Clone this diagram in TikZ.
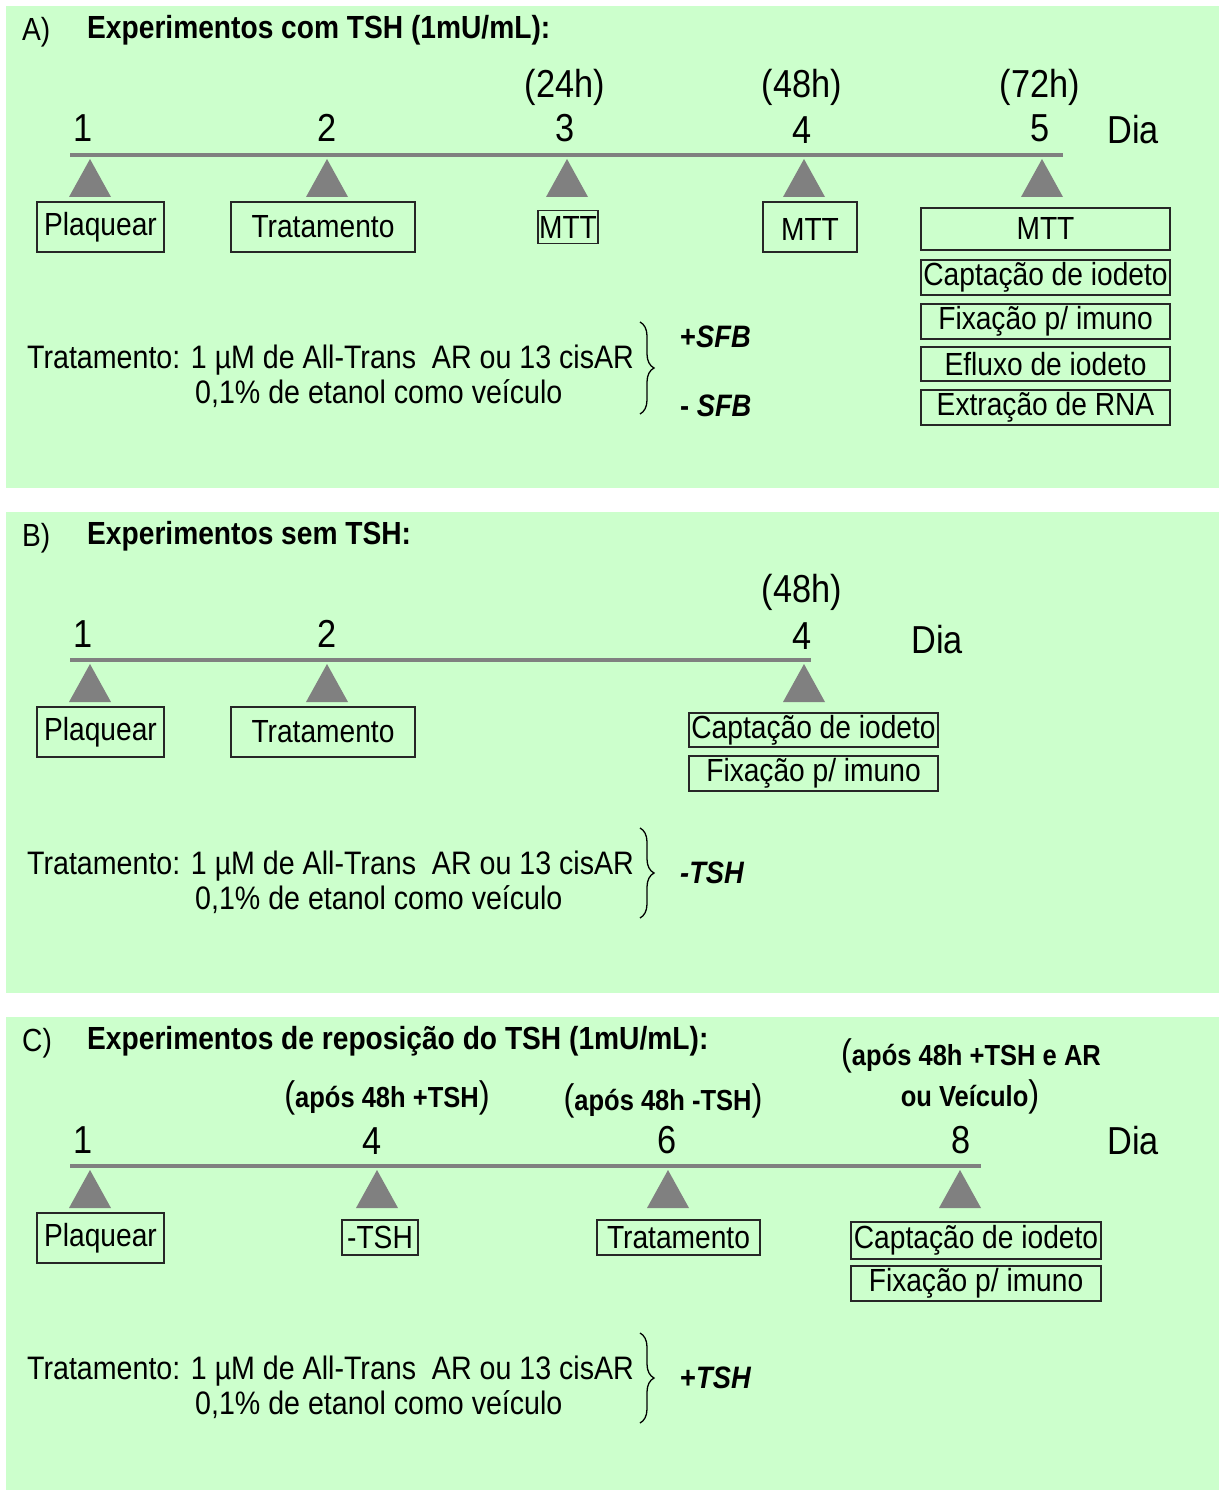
\documentclass[tikz,border=0pt]{standalone}
\usepackage{fontspec}
\setmainfont{Liberation Sans}[FakeStretch=0.88]
\usetikzlibrary{decorations.pathreplacing}
\definecolor{bg}{HTML}{CCFFCC}
\definecolor{tlgray}{HTML}{808080}
\newcommand\fsTitle{\fontsize{32}{38}\selectfont\bfseries}
\newcommand\fsBox{\fontsize{32}{36}\selectfont}
\newcommand\fsNum{\fontsize{39}{44}\selectfont}
\newcommand\fsApos{\fontsize{29}{34}\selectfont\bfseries}
\newcommand\fsParen{\fontsize{37}{40}\selectfont}
\newcommand\fsTrt{\fontsize{32.5}{38}\selectfont}
\newcommand\fsSfb{\fontsize{31}{36}\selectfont\bfseries}
\begin{document}
\begin{tikzpicture}[x=1pt,y=-1pt,
  panel/.style={fill=bg,draw=none},
  tline/.style={draw=tlgray,line width=4pt},
  tri/.style={fill=tlgray},
  ebox/.style={draw=black!85,line width=1.5pt,inner sep=0pt,font=\fsBox,text=black},
  ttl/.style={anchor=west,inner sep=0pt,font=\fsTitle},
  num/.style={inner sep=0pt,font=\fsNum},
  trt/.style={anchor=west,inner sep=0pt,font=\fsTrt},
  sfb/.style={anchor=west,inner sep=0pt,font=\fsSfb},
  apos/.style={inner sep=0pt,font=\fsApos},
  brc/.style={draw=black,line width=1.3pt,decorate,decoration={brace,amplitude=14pt}}
]
\useasboundingbox (0,0) rectangle (1219,1490);
\fill[white] (0,0) rectangle (1219,1490);
% ---------- Panel A ----------
\path[panel] (6,6) rectangle (1219,488);
\node[ttl] (Alab) at (22,32) {\fontseries{m}\selectfont A)};
\node[ttl] (Atit) at (87,30) {Experimentos com TSH (1mU/mL):};
\draw[tline] (70,155) -- (1063,155);
\node[num] (A1) at (83,128) {1};
\node[num] (A2) at (327,128) {2};
\node[num] (A3) at (565,128) {3};
\node[num] (A4) at (802,130) {4};
\node[num] (A5) at (1040,128) {5};
\node[num] (Adia) at (1133,130) {Dia};
\node[num] (Ah24) at (565,87) {(24h)};
\node[num] (Ah48) at (802,87) {(48h)};
\node[num] (Ah72) at (1040,87) {(72h)};
\foreach \x in {90,327,567,804,1042} {\fill[tri] (\x,159) -- (\x-21,197) -- (\x+21,197) -- cycle;}
\node[ebox,minimum width=127pt,minimum height=50pt] (Apl) at (100.5,227) {Plaquear};
\node[ebox,minimum width=184pt,minimum height=50pt] (Atr) at (323,227) {Tratamento};
\node[ebox,minimum width=60pt,minimum height=33pt] (Am3) at (568,227) {MTT};
\node[ebox,minimum width=94pt,minimum height=50pt,text depth=0pt] (Am4) at (810,227) {\raisebox{-5pt}{MTT}};
\node[ebox,minimum width=249pt,minimum height=42pt] (Am5) at (1045.5,229) {\raisebox{2pt}{MTT}};
\node[ebox,minimum width=249pt,minimum height=35pt] (Acap) at (1045.5,277.5) {Captação de iodeto};
\node[ebox,minimum width=249pt,minimum height=35pt] (Afix) at (1045.5,321.5) {Fixação p/ imuno};
\node[ebox,minimum width=249pt,minimum height=34pt] (Aefl) at (1045.5,364) {Efluxo de iodeto};
\node[ebox,minimum width=249pt,minimum height=35pt] (Aext) at (1045.5,407.5) {Extração de RNA};
\node[trt] (At1) at (27,360) {Tratamento: 1 µM de All-Trans~ AR ou 13 cisAR};
\node[trt] (At2) at (195,394) {0,1\% de etanol como veículo};
\draw[brc] (640,322) -- (640,414);
\node[sfb] (Asp) at (680,337) {+\textit{SFB}};
\node[sfb] (Asm) at (680,406) {- \textit{SFB}};
% ---------- Panel B ----------
\path[panel] (6,512) rectangle (1219,993);
\node[ttl] (Blab) at (22,538) {\fontseries{m}\selectfont B)};
\node[ttl] (Btit) at (87,536) {Experimentos sem TSH:};
\draw[tline] (70,660) -- (811,660);
\node[num] (B1) at (83,634) {1};
\node[num] (B2) at (327,634) {2};
\node[num] (B4) at (802,636) {4};
\node[num] (Bdia) at (937,640) {Dia};
\node[num] (Bh48) at (802,592) {(48h)};
\foreach \x in {90,327,804} {\fill[tri] (\x,664) -- (\x-21,702) -- (\x+21,702) -- cycle;}
\node[ebox,minimum width=127pt,minimum height=50pt] (Bpl) at (100.5,732) {Plaquear};
\node[ebox,minimum width=184pt,minimum height=50pt] (Btr) at (323,732) {Tratamento};
\node[ebox,minimum width=249pt,minimum height=34pt] (Bcap) at (813.5,730) {Captação de iodeto};
\node[ebox,minimum width=249pt,minimum height=35pt] (Bfix) at (813.5,773.5) {Fixação p/ imuno};
\node[trt] (Bt1) at (27,866) {Tratamento: 1 µM de All-Trans~ AR ou 13 cisAR};
\node[trt] (Bt2) at (195,900) {0,1\% de etanol como veículo};
\draw[brc] (640,828) -- (640,918);
\node[sfb] (Btsh) at (680,873) {\textit{-TSH}};
% ---------- Panel C ----------
\path[panel] (6,1017) rectangle (1219,1490);
\node[ttl] (Clab) at (22,1043) {\fontseries{m}\selectfont C)};
\node[ttl] (Ctit) at (87,1041) {Experimentos de reposição do TSH (1mU/mL):};
\node[apos] (Ca4) at (387,1098) {{\fsParen\mdseries(}após 48h +TSH{\fsParen\mdseries)}};
\node[apos] (Ca6) at (663,1101) {{\fsParen\mdseries(}após 48h -TSH{\fsParen\mdseries)}};
\node[apos] (Ca8a) at (971,1056) {{\fsParen\mdseries(}após 48h +TSH e AR};
\node[apos] (Ca8b) at (970,1097) {ou Veículo{\fsParen\mdseries)}};
\draw[tline] (70,1166) -- (981,1166);
\node[num] (C1) at (83,1140) {1};
\node[num] (C4) at (372,1141) {4};
\node[num] (C6) at (667,1140) {6};
\node[num] (C8) at (961,1140) {8};
\node[num] (Cdia) at (1133,1141) {Dia};
\foreach \x in {90,377,668,960} {\fill[tri] (\x,1170) -- (\x-21,1208) -- (\x+21,1208) -- cycle;}
\node[ebox,minimum width=127pt,minimum height=50pt] (Cpl) at (100.5,1238) {Plaquear};
\node[ebox,minimum width=76pt,minimum height=35pt] (Ctsh) at (380,1237.5) {-TSH};
\node[ebox,minimum width=163pt,minimum height=35pt] (Ctr) at (678.5,1237.5) {Tratamento};
\node[ebox,minimum width=250pt,minimum height=37pt] (Ccap) at (976,1240.5) {Captação de iodeto};
\node[ebox,minimum width=250pt,minimum height=35pt] (Cfix) at (976,1283.5) {Fixação p/ imuno};
\node[trt] (Ct1) at (27,1371) {Tratamento: 1 µM de All-Trans~ AR ou 13 cisAR};
\node[trt] (Ct2) at (195,1405) {0,1\% de etanol como veículo};
\draw[brc] (640,1333) -- (640,1423);
\node[sfb] (Ctsp) at (680,1378) {+\textit{TSH}};
\end{tikzpicture}
\end{document}
